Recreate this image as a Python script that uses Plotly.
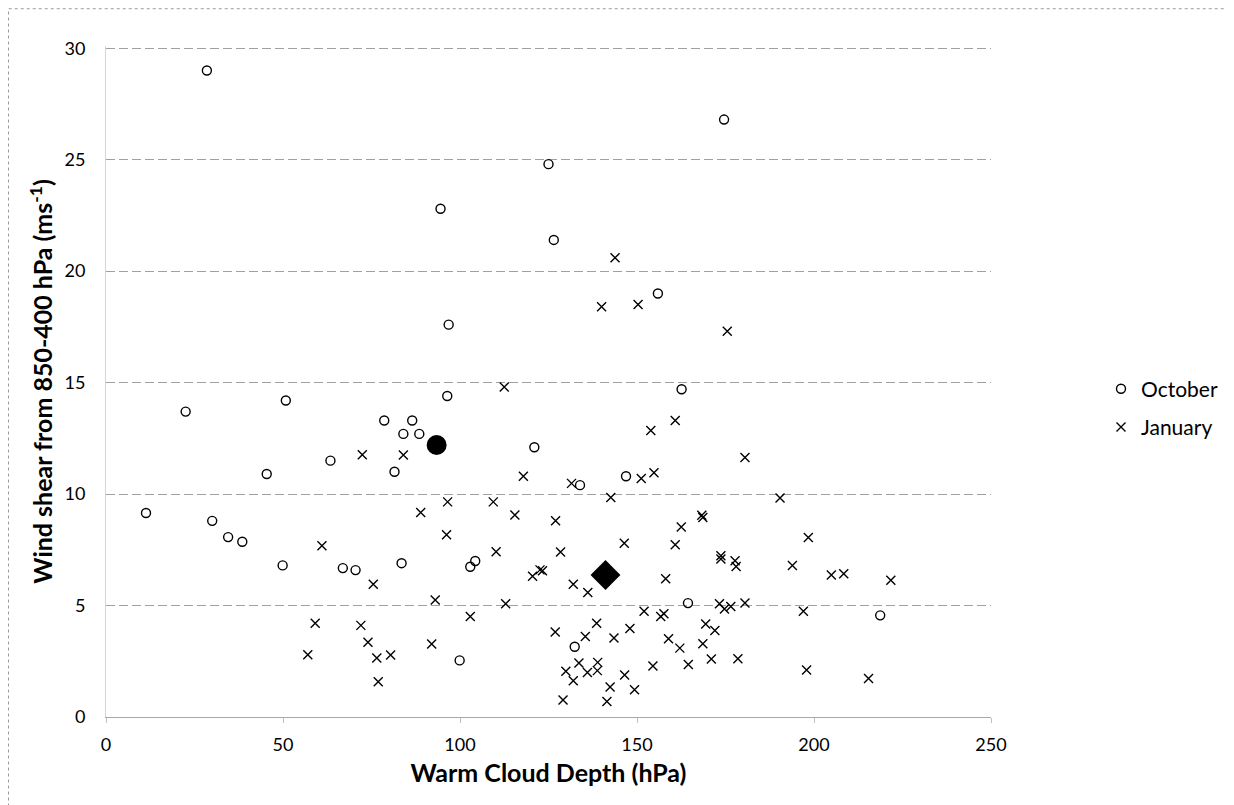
import plotly.graph_objects as go

# October (open circles)
oct_x = [28.5, 174.6, 125.0, 94.5, 126.5, 155.9, 96.8, 162.6, 96.4, 50.8, 22.5, 78.6, 86.5, 84.0, 88.5,
         121.0, 63.4, 45.4, 81.5, 146.9, 133.9, 11.3, 30.0, 34.5, 38.5, 104.3, 102.9, 83.5, 49.9, 66.9,
         70.5, 164.4, 218.7, 132.4, 99.9]
oct_y = [29.0, 26.8, 24.8, 22.8, 21.4, 19.0, 17.6, 14.7, 14.4, 14.2, 13.7, 13.3, 13.3, 12.7, 12.7,
         12.1, 11.5, 10.9, 11.0, 10.8, 10.4, 9.15, 8.8, 8.07, 7.86, 7.0, 6.74, 6.9, 6.8, 6.68,
         6.59, 5.11, 4.56, 3.15, 2.54]

# January (crosses)
jan_x = [143.8, 140.0, 150.3, 175.5, 112.5, 160.8, 153.9, 72.4, 84.0, 180.5, 117.9, 151.2, 154.8, 131.5,
         142.6, 190.4, 96.5, 109.4, 88.9, 115.5, 168.3, 168.6, 127.0, 162.5, 96.2, 198.4, 146.4, 160.8,
         61.0, 110.2, 128.4, 173.7, 173.7, 177.7, 178.0, 193.9, 204.9, 208.4, 221.7, 120.5, 122.6, 123.3,
         132.0, 75.5, 136.1, 158.1, 93.0, 112.9, 173.3, 174.7, 176.5, 180.5, 197.0, 152.0, 156.7, 157.6,
         102.9, 59.1, 72.0, 169.4, 172.0, 138.6, 148.0, 126.9, 135.4, 143.5, 158.9, 74.0, 92.0, 162.1,
         168.6, 57.0, 80.4, 76.5, 171.0, 178.5, 133.6, 138.9, 138.8, 136.0, 129.9, 132.0, 154.5, 164.5,
         146.5, 76.9, 142.4, 149.3, 129.1, 141.5, 197.9, 215.4]
jan_y = [20.6, 18.4, 18.5, 17.3, 14.8, 13.3, 12.85, 11.76, 11.75, 11.64, 10.8, 10.7, 10.96, 10.48,
         9.85, 9.82, 9.65, 9.65, 9.17, 9.06, 9.05, 8.95, 8.8, 8.52, 8.18, 8.05, 7.79, 7.73,
         7.68, 7.41, 7.4, 7.23, 7.09, 7.01, 6.75, 6.8, 6.37, 6.43, 6.13, 6.31, 6.6, 6.56,
         5.96, 5.96, 5.59, 6.2, 5.25, 5.08, 5.08, 4.84, 4.96, 5.11, 4.74, 4.74, 4.51, 4.63,
         4.51, 4.21, 4.11, 4.17, 3.88, 4.21, 3.97, 3.81, 3.61, 3.54, 3.51, 3.35, 3.27, 3.09,
         3.29, 2.79, 2.78, 2.65, 2.6, 2.61, 2.42, 2.45, 2.08, 2.0, 2.05, 1.63, 2.29, 2.35,
         1.88, 1.58, 1.35, 1.22, 0.76, 0.7, 2.11, 1.73]

# Mean markers
oct_mean = (93.4, 12.2)
jan_mean = (141.1, 6.37)

x_ticks = [0, 50, 100, 150, 200, 250]
y_ticks = [0, 5, 10, 15, 20, 25, 30]
Y_MAX = 30.1

FONT = "Lato"

fig = go.Figure()
fig.add_trace(go.Scatter(
    x=oct_x, y=oct_y, mode="markers", name="October", legendgroup="a",
    marker=dict(symbol="circle-open", size=9, color="black", line=dict(width=1.4, color="black")),
))
fig.add_trace(go.Scatter(
    x=jan_x, y=jan_y, mode="markers", name="January", legendgroup="b",
    marker=dict(symbol="x-thin-open", size=9, color="black", line=dict(width=1.4, color="black")),
))
fig.add_trace(go.Scatter(
    x=[oct_mean[0]], y=[oct_mean[1]], mode="markers", showlegend=False,
    marker=dict(symbol="circle", size=20, color="black"),
))
fig.add_trace(go.Scatter(
    x=[jan_mean[0]], y=[jan_mean[1]], mode="markers", showlegend=False,
    marker=dict(symbol="diamond", size=23, color="black"),
))

# page has an 8px body margin; figure sized to fit the 1234x805 window
OFF = 8
W, H = 1234 - OFF, 805 - OFF
# desired plot area in page pixels: x 106..991, y(30)=48 .. y(0)=717
PX0, PX1, PY0, PY30 = 106, 991, 717, 48
pw = PX1 - PX0
ph = (PY0 - PY30) * Y_MAX / 30.0
L = PX0 - OFF
R = W - L - pw
B = H - (PY0 - OFF)
T = H - B - ph

def px(xp):  # page x -> paper
    return (xp - PX0) / pw

def py(yp):  # page y -> paper
    return (PY0 - yp) / ph

fig.add_shape(type="rect", xref="paper", yref="paper",
              x0=px(8.5), x1=px(1245), y0=py(815), y1=py(8.5),
              line=dict(color="#9a9a9a", width=1, dash="dot"), layer="below")

fig.update_layout(
    width=W, height=H,
    margin=dict(l=L, r=R, t=T, b=B, autoexpand=False),
    plot_bgcolor="white", paper_bgcolor="white",
    font=dict(family=FONT, color="black", size=18),
    showlegend=True,
    legend=dict(x=px(1101), y=py(408), xanchor="left", yanchor="middle",
                font=dict(family=FONT, size=21, color="black"),
                tracegroupgap=8, bgcolor="rgba(0,0,0,0)", itemwidth=30),
    xaxis=dict(
        range=[0, 250], tickvals=x_ticks, ticktext=[str(v) for v in x_ticks],
        showgrid=False, zeroline=False, automargin=False,
        showline=True, linecolor="#a8a8a8", linewidth=1,
        ticks="outside", ticklen=5, tickcolor="#c0c0c0",
        ticklabelstandoff=6,
        tickfont=dict(family=FONT, size=18),
        title=dict(text="<b>Warm Cloud Depth (hPa)</b>", font=dict(family=FONT, size=25), standoff=10),
    ),
    yaxis=dict(
        range=[0, Y_MAX], tickvals=y_ticks, ticktext=[str(v) for v in y_ticks],
        showgrid=True, gridcolor="#a0a0a0", gridwidth=1, griddash="9px,4px",
        zeroline=False, showline=True, linecolor="#d6d6d6", linewidth=1,
        ticks="", ticklabelstandoff=16, automargin=False,
        tickfont=dict(family=FONT, size=18),
        title=dict(text="<b>Wind shear from 850-400 hPa (ms<sup>-1</sup>)</b>",
                   font=dict(family=FONT, size=25), standoff=4),
    ),
)

fig.write_html("out.html")
